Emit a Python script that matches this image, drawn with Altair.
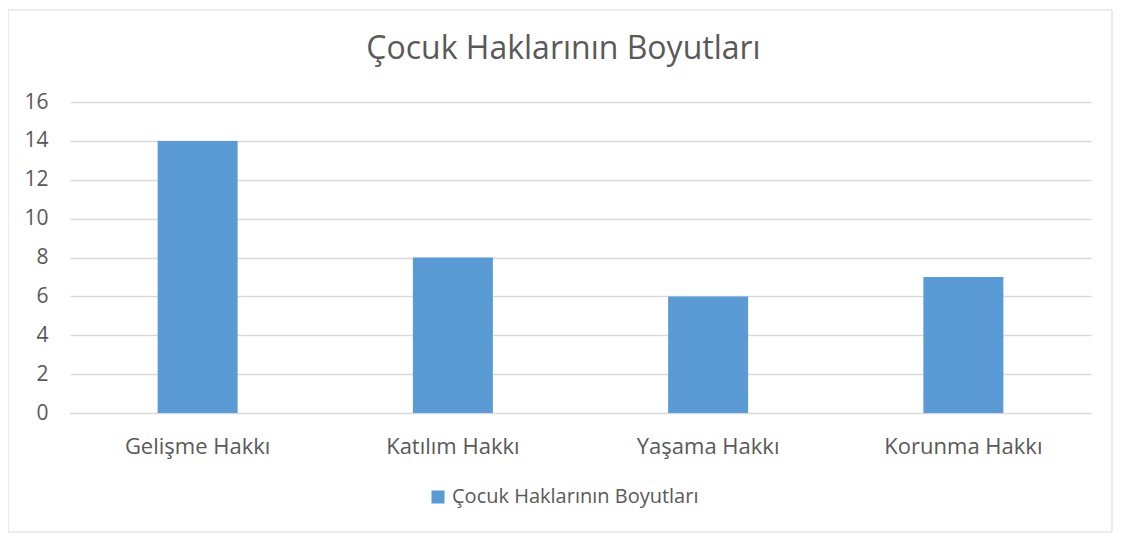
import altair as alt
import pandas as pd

categories = ["Gelişme Hakkı", "Katılım Hakkı", "Yaşama Hakkı", "Korunma Hakkı"]
values = [14, 8, 6, 7]
series = "Çocuk Haklarının Boyutları"

df = pd.DataFrame({"Hak": categories, "Değer": values, "Seri": [series] * len(categories)})

FONT = "Open Sans"
TXT = "#595959"

bars = alt.Chart(df).mark_bar(size=80).encode(
    x=alt.X("Hak:N", sort=categories, title=None,
            scale=alt.Scale(paddingInner=0.69, paddingOuter=0.345),
            axis=alt.Axis(labelAngle=0, labelFontSize=22, labelColor=TXT, labelFont=FONT,
                          ticks=False, domain=True, domainColor="#d9d9d9", labelPadding=23,
                          labelLimit=0)),
    y=alt.Y("Değer:Q", title=None,
            scale=alt.Scale(domain=[0, 16]),
            axis=alt.Axis(values=list(range(0, 17, 2)), labelFontSize=21, labelColor=TXT,
                          labelFont=FONT, ticks=False, domain=False, gridColor="#d9d9d9",
                          gridWidth=1.3, labelPadding=22)),
    color=alt.Color("Seri:N", scale=alt.Scale(range=["#5B9BD5"]),
                    legend=alt.Legend(title=None, orient="none", legendX=358, legendY=385,
                                      symbolType="square", symbolSize=170, labelFontSize=20,
                                      labelColor=TXT, labelFont=FONT, symbolStrokeWidth=0,
                                      labelLimit=0, labelOffset=4)),
)

border = alt.Chart(pd.DataFrame({"a": [0]})).mark_rect(
    fill=None, stroke="#d9d9d9", strokeWidth=1
).encode(
    x=alt.value(-62), x2=alt.value(1042), y=alt.value(-92), y2=alt.value(430)
)

chart = alt.layer(border, bars).properties(
    width=1021, height=311,
    autosize=alt.AutoSizeParams(type="none"),
    padding={"left": 62, "top": 94, "right": 24, "bottom": 124},
    title=alt.TitleParams(series, fontSize=32, font=FONT, color=TXT, fontWeight="normal",
                          anchor="middle", offset=-58, dx=-17, dy=30, baseline="bottom"),
).configure_view(stroke=None)

chart.save("out.html", embed_options={"renderer": "svg", "actions": False})
